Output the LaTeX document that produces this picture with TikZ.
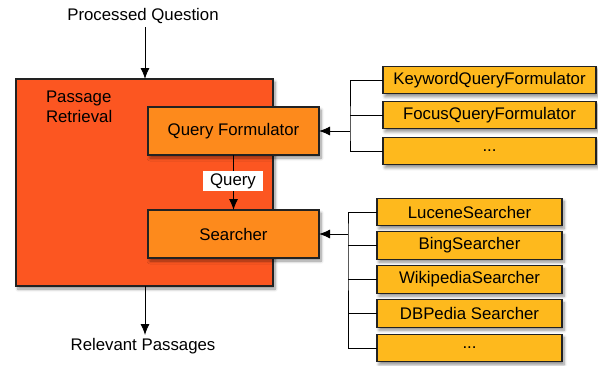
\documentclass[tikz,border=0pt]{standalone}
\usepackage{fontspec}
\setmainfont{Liberation Sans}
\usetikzlibrary{arrows.meta,shadows.blur}
\definecolor{redorange}{HTML}{FC5621}
\definecolor{midorange}{HTML}{FD8A1C}
\definecolor{boxyellow}{HTML}{FEB91D}
\definecolor{edgegray}{HTML}{222222}
\tikzset{
  x=1pt, y=-1pt,
  every node/.style={font=\fontsize{16.8}{20}\selectfont, inner sep=0pt, outer sep=0pt},
  shade/.style={blur shadow={shadow blur steps=6, shadow xshift=2pt, shadow yshift=-3pt, shadow opacity=45, shadow blur radius=3pt}},
  bigbox/.style={draw=edgegray, line width=1.4pt, fill=redorange, shade, minimum width=257pt, minimum height=207pt},
  compbox/.style={draw=edgegray, line width=1.4pt, fill=midorange, shade, minimum width=171pt, minimum height=48pt},
  implbox/.style={draw=edgegray, line width=1.4pt, fill=boxyellow, shade, minimum height=27.5pt},
  conn/.style={draw=black, line width=0.9pt},
  arr/.style={conn, -{Latex[length=11pt,width=9pt]}},
}
\begin{document}
\begin{tikzpicture}
\useasboundingbox (0,0) rectangle (598,365);
\node[bigbox] (pr) at (144.5,182.5) {};
\node[anchor=north west, align=left] (prl) at (46,91) {Passage\\Retrieval};
\node[compbox] (qf) at (233.5,131) {Query Formulator};
\node[compbox] (se) at (233.5,234) {Searcher};

\node[implbox, minimum width=213pt] (kw) at (489.5,80) {KeywordQueryFormulator};
\node[implbox, minimum width=213pt] (fq) at (489.5,115) {FocusQueryFormulator};
\node[implbox, minimum width=213pt] (d1) at (489.5,151) {...};

\node[implbox, minimum width=185pt] (lu) at (469.5,212) {LuceneSearcher};
\node[implbox, minimum width=185pt] (bi) at (469.5,245.5) {BingSearcher};
\node[implbox, minimum width=185pt] (wi) at (469.5,279.5) {WikipediaSearcher};
\node[implbox, minimum width=185pt] (db) at (469.5,313.5) {DBPedia Searcher};
\node[implbox, minimum width=185pt] (d2) at (469.5,348) {...};

\node (pq) at (143,16) {Processed Question};
\node (rp) at (143,346) {Relevant Passages};
\coordinate (pqa) at (145,27);
\coordinate (rpa) at (145,335);
\draw[arr] (pqa) -- (pqa |- pr.north);
\draw[arr] (rpa |- pr.south) -- (rpa);

% query formulator to searcher
\draw[arr] (qf.south) -- (se.north);
\node[fill=white, minimum width=60pt, minimum height=20pt] (ql) at (233,181) {Query};

% formulator bracket
\coordinate (b1) at (350,131);
\draw[conn] (kw.west) -| (b1) |- (d1.west);
\draw[conn] (fq.west) -- (fq.west -| b1);
\draw[arr] (b1) -- (qf.east);

% searcher bracket
\coordinate (b2) at (348,234);
\draw[conn] (lu.west) -| (b2) |- (d2.west);
\draw[conn] (bi.west) -- (bi.west -| b2);
\draw[conn] (wi.west) -- (wi.west -| b2);
\draw[conn] (db.west) -- (db.west -| b2);
\draw[arr] (b2) -- (se.east);
\end{tikzpicture}
\end{document}
